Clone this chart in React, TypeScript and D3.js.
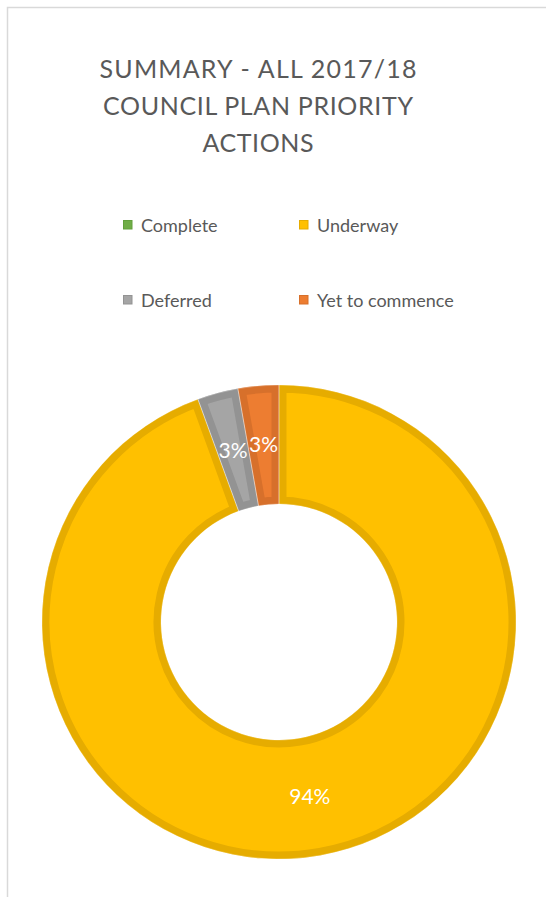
import React from "react";
import * as d3 from "d3";

const categories = ["Complete", "Underway", "Deferred", "Yet to commence"];
const values = [0, 34, 1, 1];
const fills = ["#70AD47", "#FFC000", "#A5A5A5", "#ED7D31"];
const borders = ["#62A03C", "#E6AC00", "#939393", "#D7702B"];
const titleLines = ["SUMMARY - ALL 2017/18", "COUNCIL PLAN PRIORITY", "ACTIONS"];
const titleWidths = [317, 310, 111];

const W = 546;
const H = 897;
const cx = 279;
const cy = 622;
const outerR = 237;
const innerR = 118;

export default function App() {
  const total = d3.sum(values);
  const pie = d3.pie<number>().sort(null).value((d) => d)(values);
  const arc = d3.arc<d3.PieArcDatum<number>>().innerRadius(innerR).outerRadius(outerR);
  const labelArc = d3
    .arc<d3.PieArcDatum<number>>()
    .innerRadius((innerR + outerR) / 2)
    .outerRadius((innerR + outerR) / 2);

  const legendPos = [
    { x: 123, y: 220 },
    { x: 299, y: 220 },
    { x: 123, y: 295 },
    { x: 299, y: 295 },
  ];

  const visible = pie.filter((p) => p.endAngle - p.startAngle > 0);

  return (
    <svg
      width={W}
      height={H}
      style={{ position: "absolute", left: 0, top: 0 }}
      fontFamily="Lato, 'Open Sans', sans-serif"
    >
      <rect x={0} y={0} width={W} height={H} fill="#fff" />
      <path d={`M7.5,${H} V7.5 H${W}`} fill="none" stroke="#D9D9D9" strokeWidth={1.5} />
      <g fill="#595959" fontSize={25} textAnchor="middle">
        {titleLines.map((t, i) => (
          <text key={i} x={258} y={78 + i * 37} textLength={titleWidths[i]} lengthAdjust="spacing">
            {t}
          </text>
        ))}
      </g>
      <g>
        {categories.map((c, i) => (
          <g key={c}>
            <rect
              x={legendPos[i].x + 0.5}
              y={legendPos[i].y + 0.5}
              width={8.5}
              height={8.5}
              fill={fills[i]}
              stroke={borders[i]}
              strokeWidth={1}
            />
            <text x={legendPos[i].x + 18} y={legendPos[i].y + 12} fontSize={18} fill="#595959">
              {c}
            </text>
          </g>
        ))}
      </g>
      <g transform={`translate(${cx},${cy})`}>
        <defs>
          {visible.map((p) => (
            <clipPath id={`clip${p.index}`} key={p.index}>
              <path d={arc(p) || ""} />
            </clipPath>
          ))}
        </defs>
        {visible.map((p) => (
          <path
            key={p.index}
            d={arc(p) || ""}
            fill={fills[p.index]}
            stroke={borders[p.index]}
            strokeWidth={15}
            clipPath={`url(#clip${p.index})`}
          />
        ))}
        {visible.map((p) => (
          <path
            key={"s" + p.index}
            d={arc(p) || ""}
            fill="none"
            stroke="#fff"
            strokeWidth={0.6}
            strokeOpacity={0.5}
          />
        ))}
        <g fill="#fff" fontSize={21} textAnchor="middle">
          {visible.map((p) => {
            const [lx, ly] = labelArc.centroid(p);
            return (
              <text key={p.index} x={lx} y={ly + 7}>
                {d3.format(".0%")(values[p.index] / total)}
              </text>
            );
          })}
        </g>
      </g>
    </svg>
  );
}
